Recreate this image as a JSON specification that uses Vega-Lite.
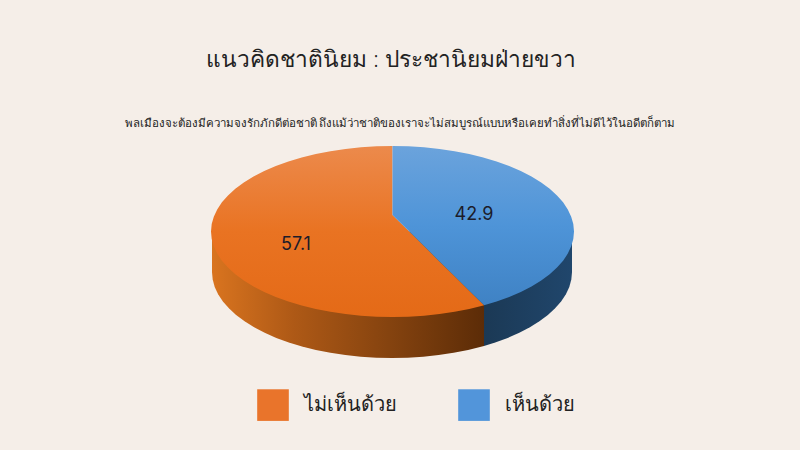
{
  "$schema": "https://vega.github.io/schema/vega-lite/v6.json",
  "width": 800,
  "height": 450,
  "padding": 0,
  "autosize": "none",
  "background": "#F5EEE8",
  "config": {"view": {"stroke": null}, "font": "Noto Sans"},
  "title": {
    "text": "แนวคิดชาตินิยม : ประชานิยมฝ่ายขวา",
    "anchor": "middle",
    "frame": "group",
    "dx": -9,
    "offset": -72,
    "fontSize": 22.7,
    "fontWeight": 300,
    "color": "#222222"
  },
  "datasets": {
    "shares": [
      {"part": "ไม่เห็นด้วย", "value": 57.1, "x": 296, "y": 245},
      {"part": "เห็นด้วย", "value": 42.9, "x": 474, "y": 215}
    ],
    "sideOrange": [
      {"x": 212, "y": 231.5, "y2": 272},
      {"x": 212.7, "y": 231.5, "y2": 279.5},
      {"x": 214.7, "y": 231.5, "y2": 286.9},
      {"x": 218.1, "y": 231.5, "y2": 294.3},
      {"x": 222.9, "y": 231.5, "y2": 301.4},
      {"x": 228.9, "y": 231.5, "y2": 308.3},
      {"x": 236.1, "y": 231.5, "y2": 315},
      {"x": 244.6, "y": 231.5, "y2": 321.3},
      {"x": 254.1, "y": 231.5, "y2": 327.3},
      {"x": 264.7, "y": 231.5, "y2": 332.8},
      {"x": 276.3, "y": 231.5, "y2": 337.9},
      {"x": 288.8, "y": 231.5, "y2": 342.5},
      {"x": 302, "y": 231.5, "y2": 346.5},
      {"x": 315.9, "y": 231.5, "y2": 349.9},
      {"x": 330.4, "y": 231.5, "y2": 352.8},
      {"x": 345.4, "y": 231.5, "y2": 355.1},
      {"x": 360.7, "y": 231.5, "y2": 356.7},
      {"x": 376.3, "y": 231.5, "y2": 357.7},
      {"x": 392, "y": 231.5, "y2": 358},
      {"x": 407.7, "y": 231.5, "y2": 357.7},
      {"x": 423.3, "y": 231.5, "y2": 356.7},
      {"x": 438.6, "y": 231.5, "y2": 355.1},
      {"x": 453.6, "y": 231.5, "y2": 352.8},
      {"x": 468.1, "y": 231.5, "y2": 349.9},
      {"x": 482, "y": 231.5, "y2": 346.5},
      {"x": 484, "y": 231.5, "y2": 345.9}
    ],
    "sideBlue": [
      {"x": 484, "y": 231.5, "y2": 345.9},
      {"x": 495.2, "y": 231.5, "y2": 342.5},
      {"x": 507.7, "y": 231.5, "y2": 337.9},
      {"x": 519.3, "y": 231.5, "y2": 332.8},
      {"x": 529.9, "y": 231.5, "y2": 327.3},
      {"x": 539.4, "y": 231.5, "y2": 321.3},
      {"x": 547.9, "y": 231.5, "y2": 315},
      {"x": 555.1, "y": 231.5, "y2": 308.3},
      {"x": 561.1, "y": 231.5, "y2": 301.4},
      {"x": 565.9, "y": 231.5, "y2": 294.3},
      {"x": 569.3, "y": 231.5, "y2": 286.9},
      {"x": 571.3, "y": 231.5, "y2": 279.5},
      {"x": 572, "y": 231.5, "y2": 272}
    ],
    "topOrange": [
      {"x": 211, "y": 231.5, "y2": 231.5},
      {"x": 211.7, "y": 224, "y2": 239},
      {"x": 213.8, "y": 216.7, "y2": 246.3},
      {"x": 217.2, "y": 209.4, "y2": 253.6},
      {"x": 221.9, "y": 202.3, "y2": 260.7},
      {"x": 228, "y": 195.4, "y2": 267.6},
      {"x": 235.3, "y": 188.7, "y2": 274.3},
      {"x": 243.8, "y": 182.5, "y2": 280.5},
      {"x": 253.5, "y": 176.5, "y2": 286.5},
      {"x": 264.2, "y": 171, "y2": 292},
      {"x": 275.8, "y": 166, "y2": 297},
      {"x": 288.4, "y": 161.5, "y2": 301.5},
      {"x": 301.7, "y": 157.5, "y2": 305.5},
      {"x": 315.8, "y": 154, "y2": 309},
      {"x": 330.4, "y": 151.2, "y2": 311.8},
      {"x": 345.5, "y": 148.9, "y2": 314.1},
      {"x": 361, "y": 147.3, "y2": 315.7},
      {"x": 376.7, "y": 146.3, "y2": 316.7},
      {"x": 392.5, "y": 146, "y2": 317},
      {"x": 392.5, "y": 215, "y2": 317},
      {"x": 408.3, "y": 230.6, "y2": 316.7},
      {"x": 424, "y": 246.1, "y2": 315.7},
      {"x": 439.5, "y": 261.4, "y2": 314.1},
      {"x": 454.6, "y": 276.3, "y2": 311.8},
      {"x": 469.2, "y": 290.7, "y2": 309},
      {"x": 483.3, "y": 304.6, "y2": 305.5},
      {"x": 484, "y": 305.3, "y2": 305.3}
    ],
    "topBlue": [
      {"x": 392.5, "y": 146, "y2": 215},
      {"x": 408.3, "y": 146.3, "y2": 230.6},
      {"x": 424, "y": 147.3, "y2": 246.1},
      {"x": 439.5, "y": 148.9, "y2": 261.4},
      {"x": 454.6, "y": 151.2, "y2": 276.3},
      {"x": 469.2, "y": 154, "y2": 290.7},
      {"x": 483.3, "y": 157.5, "y2": 304.6},
      {"x": 484, "y": 157.7, "y2": 305.3},
      {"x": 496.6, "y": 161.5, "y2": 301.5},
      {"x": 509.2, "y": 166, "y2": 297},
      {"x": 520.8, "y": 171, "y2": 292},
      {"x": 531.5, "y": 176.5, "y2": 286.5},
      {"x": 541.2, "y": 182.5, "y2": 280.5},
      {"x": 549.7, "y": 188.7, "y2": 274.3},
      {"x": 557, "y": 195.4, "y2": 267.6},
      {"x": 563.1, "y": 202.3, "y2": 260.7},
      {"x": 567.8, "y": 209.4, "y2": 253.6},
      {"x": 571.2, "y": 216.7, "y2": 246.3},
      {"x": 573.3, "y": 224, "y2": 239},
      {"x": 574, "y": 231.5, "y2": 231.5}
    ]
  },
  "data": {"name": "shares"},
  "encoding": {
    "x": {"field": "x", "type": "quantitative", "scale": {"domain": [0, 800], "nice": false, "zero": false}, "axis": null},
    "y": {"field": "y", "type": "quantitative", "scale": {"domain": [450, 0], "nice": false, "zero": false}, "axis": null}
  },
  "layer": [
    {
      "data": {"name": "sideOrange"},
      "mark": {
        "type": "area",
        "color": {
          "gradient": "linear", "x1": 0, "y1": 0, "x2": 1, "y2": 0,
          "stops": [
            {"offset": 0, "color": "#D9741F"},
            {"offset": 0.3, "color": "#AE5916"},
            {"offset": 0.65, "color": "#85430F"},
            {"offset": 1, "color": "#5C2C07"}
          ]
        }
      },
      "encoding": {"y2": {"field": "y2"}}
    },
    {
      "data": {"name": "sideBlue"},
      "mark": {
        "type": "area",
        "color": {
          "gradient": "linear", "x1": 0, "y1": 0, "x2": 1, "y2": 0,
          "stops": [
            {"offset": 0, "color": "#1B3955"},
            {"offset": 1, "color": "#20466C"}
          ]
        }
      },
      "encoding": {"y2": {"field": "y2"}}
    },
    {
      "data": {"name": "topOrange"},
      "mark": {
        "type": "area",
        "color": {
          "gradient": "linear", "x1": 0, "y1": 0, "x2": 0, "y2": 1,
          "stops": [
            {"offset": 0, "color": "#EC8A4C"},
            {"offset": 0.5, "color": "#E97322"},
            {"offset": 1, "color": "#E46A17"}
          ]
        }
      },
      "encoding": {"y2": {"field": "y2"}}
    },
    {
      "data": {"name": "topBlue"},
      "mark": {
        "type": "area",
        "color": {
          "gradient": "linear", "x1": 0, "y1": 0, "x2": 0, "y2": 1,
          "stops": [
            {"offset": 0, "color": "#6BA3DC"},
            {"offset": 0.5, "color": "#4E94D8"},
            {"offset": 1, "color": "#3F82C4"}
          ]
        }
      },
      "encoding": {"y2": {"field": "y2"}}
    },
    {
      "mark": {"type": "text", "font": "Inter", "fontSize": 18, "fill": "#1c1c2a", "align": "center", "baseline": "middle"},
      "encoding": {"text": {"field": "value", "type": "quantitative", "format": ".1f"}}
    },
    {
      "data": {"values": [{"x": 400, "y": 124, "note": "พลเมืองจะต้องมีความจงรักภักดีต่อชาติ ถึงแม้ว่าชาติของเราจะไม่สมบูรณ์แบบหรือเคยทำสิ่งที่ไม่ดีไว้ในอดีตก็ตาม"}]},
      "mark": {"type": "text", "fontSize": 11.5, "fill": "#222222", "align": "center", "baseline": "middle"},
      "encoding": {"text": {"field": "note", "type": "nominal"}}
    },
    {
      "mark": {"type": "point", "filled": true, "shape": "square", "opacity": 0},
      "encoding": {
        "color": {
          "field": "part",
          "type": "nominal",
          "sort": null,
          "scale": {"domain": ["ไม่เห็นด้วย", "เห็นด้วย"], "range": ["#E9742B", "#5295DA"]},
          "legend": {
            "title": null,
            "orient": "none",
            "legendX": 257,
            "legendY": 389,
            "direction": "horizontal",
            "columns": 2,
            "columnPadding": 61,
            "symbolType": "square",
            "symbolSize": 1000,
            "symbolOpacity": 1,
            "symbolStrokeWidth": 0,
            "labelFontSize": 20,
            "labelColor": "#222222",
            "labelOffset": 15,
            "labelLimit": 200
          }
        }
      }
    }
  ]
}
